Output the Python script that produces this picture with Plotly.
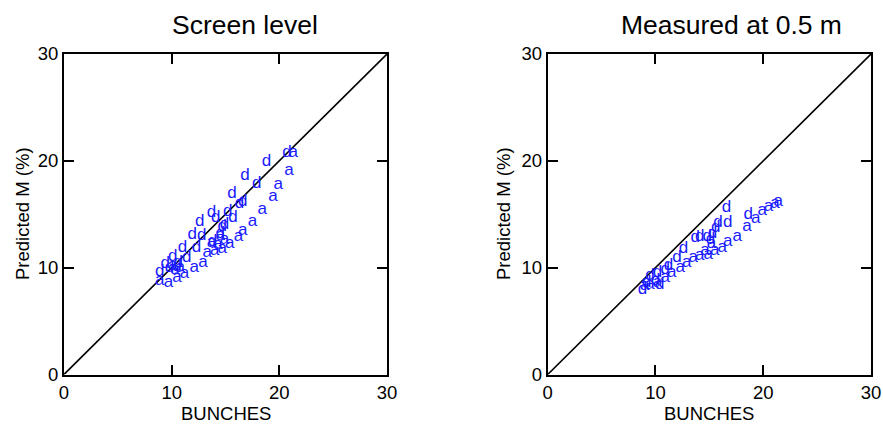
import plotly.graph_objects as go

# ---- data ----
screen_d_x = [20.7, 18.8, 16.8, 17.9, 15.6, 16.6, 16.3, 15.2, 13.7, 14.1, 15.7, 12.6, 14.9, 14.7, 14.5,
              11.9, 12.8, 13.8, 11.0, 12.3, 10.1, 11.4, 10.6, 9.4, 8.9, 10.5, 9.8]
screen_d_y = [20.8, 19.9, 18.6, 17.9, 16.9, 16.2, 16.0, 15.2, 15.1, 14.7, 14.7, 14.3, 14.0, 13.8, 13.2,
              13.1, 13.0, 12.4, 11.9, 11.9, 11.0, 10.9, 10.5, 10.4, 9.6, 10.1, 10.0]
screen_a_x = [21.3, 20.9, 19.9, 19.4, 18.4, 17.5, 16.6, 16.2, 15.4, 14.7, 14.0, 13.3, 12.9, 12.1, 11.2,
              10.5, 9.7, 8.9, 14.9, 14.3, 13.7, 14.5, 10.8, 10.3, 10.1]
screen_a_y = [20.8, 19.1, 17.8, 16.6, 15.4, 14.3, 13.5, 12.9, 12.2, 11.8, 11.6, 11.4, 10.5, 9.95, 9.4,
              9.1, 8.6, 8.8, 12.6, 12.1, 12.3, 13.0, 9.95, 9.8, 10.2]

meas_d_x = [16.6, 18.6, 15.8, 16.7, 14.1, 14.8, 13.7, 12.6, 12.0, 15.3, 15.6, 15.1, 10.9, 10.2, 9.5,
            10.0, 8.8, 9.2, 10.4, 11.2]
meas_d_y = [15.6, 15.0, 14.2, 14.2, 12.9, 12.9, 12.8, 11.8, 10.9, 13.2, 13.7, 12.6, 9.8, 9.5, 9.2,
            8.8, 7.9, 8.6, 8.4, 10.2]
meas_a_x = [21.4, 21.1, 20.5, 19.9, 19.3, 18.5, 17.6, 16.7, 16.2, 15.5, 14.9, 14.1, 13.5, 12.9, 12.3,
            11.5, 10.9, 10.2, 9.5, 9.0, 14.6, 15.2]
meas_a_y = [16.2, 16.0, 15.7, 15.3, 14.6, 13.8, 12.9, 12.4, 11.9, 11.6, 11.2, 11.1, 10.9, 10.5, 10.0,
            9.5, 9.1, 8.6, 8.4, 8.3, 11.6, 12.2]

diag = [0, 30]
tick_vals = [0, 10, 20, 30]
titles = ["Screen level", "Measured at 0.5 m"]
x_title = "BUNCHES"
y_title = "Predicted M (%)"

W, H = 883, 424
FONT = "Arial, Liberation Sans, sans-serif"
BLUE = "#1a1aff"

fig = go.Figure()

panels = [
    (screen_d_x, screen_d_y, screen_a_x, screen_a_y, "x", "y"),
    (meas_d_x, meas_d_y, meas_a_x, meas_a_y, "x2", "y2"),
]
for dx, dy, ax, ay, xa, ya in panels:
    fig.add_trace(go.Scatter(x=diag, y=diag, mode="lines", line=dict(color="black", width=1.6),
                             xaxis=xa, yaxis=ya, showlegend=False, hoverinfo="skip"))
    fig.add_trace(go.Scatter(x=dx, y=dy, mode="text", text=["d"] * len(dx),
                             textfont=dict(color=BLUE, size=17, family=FONT),
                             xaxis=xa, yaxis=ya, showlegend=False))
    fig.add_trace(go.Scatter(x=ax, y=ay, mode="text", text=["a"] * len(ax),
                             textfont=dict(color=BLUE, size=17, family=FONT),
                             xaxis=xa, yaxis=ya, showlegend=False))

y_dom = [(H - 374.5) / H, (H - 54) / H]
x_doms = [[64 / W, 387 / W], [547.7 / W, 871 / W]]

axis_common = dict(range=[0, 30], tickvals=tick_vals, ticks="inside", ticklen=10, tickwidth=1.5,
                   tickcolor="black", showline=True, linecolor="black", linewidth=2, mirror="ticks",
                   showgrid=False, zeroline=False, tickfont=dict(size=18.5, family=FONT, color="black"),
                   fixedrange=True, automargin=False)

fig.update_layout(
    width=W, height=H, margin=dict(l=0, r=0, t=0, b=0, pad=0),
    paper_bgcolor="white", plot_bgcolor="white",
    font=dict(family=FONT, color="black"),
    xaxis=dict(domain=x_doms[0], anchor="y", **axis_common),
    yaxis=dict(domain=y_dom, anchor="x", **axis_common),
    xaxis2=dict(domain=x_doms[1], anchor="y2", **axis_common),
    yaxis2=dict(domain=y_dom, anchor="x2", **axis_common),
)

title_x = [245, 731]
xt_x = [226, 709]
yt_x = [22, 503]
for i in range(2):
    fig.add_annotation(text=titles[i], x=title_x[i] / W, y=1 - 25 / H, xref="paper", yref="paper",
                       showarrow=False, xanchor="center", yanchor="middle",
                       font=dict(size=26.5, family=FONT, color="black"))
    fig.add_annotation(text=x_title, x=xt_x[i] / W, y=1 - 413 / H, xref="paper", yref="paper",
                       showarrow=False, xanchor="center", yanchor="middle",
                       font=dict(size=18.5, family=FONT, color="black"))
    fig.add_annotation(text=y_title, x=yt_x[i] / W, y=1 - 214 / H, xref="paper", yref="paper",
                       showarrow=False, xanchor="center", yanchor="middle", textangle=-90,
                       font=dict(size=18.5, family=FONT, color="black"))

fig.write_html("out.html")
